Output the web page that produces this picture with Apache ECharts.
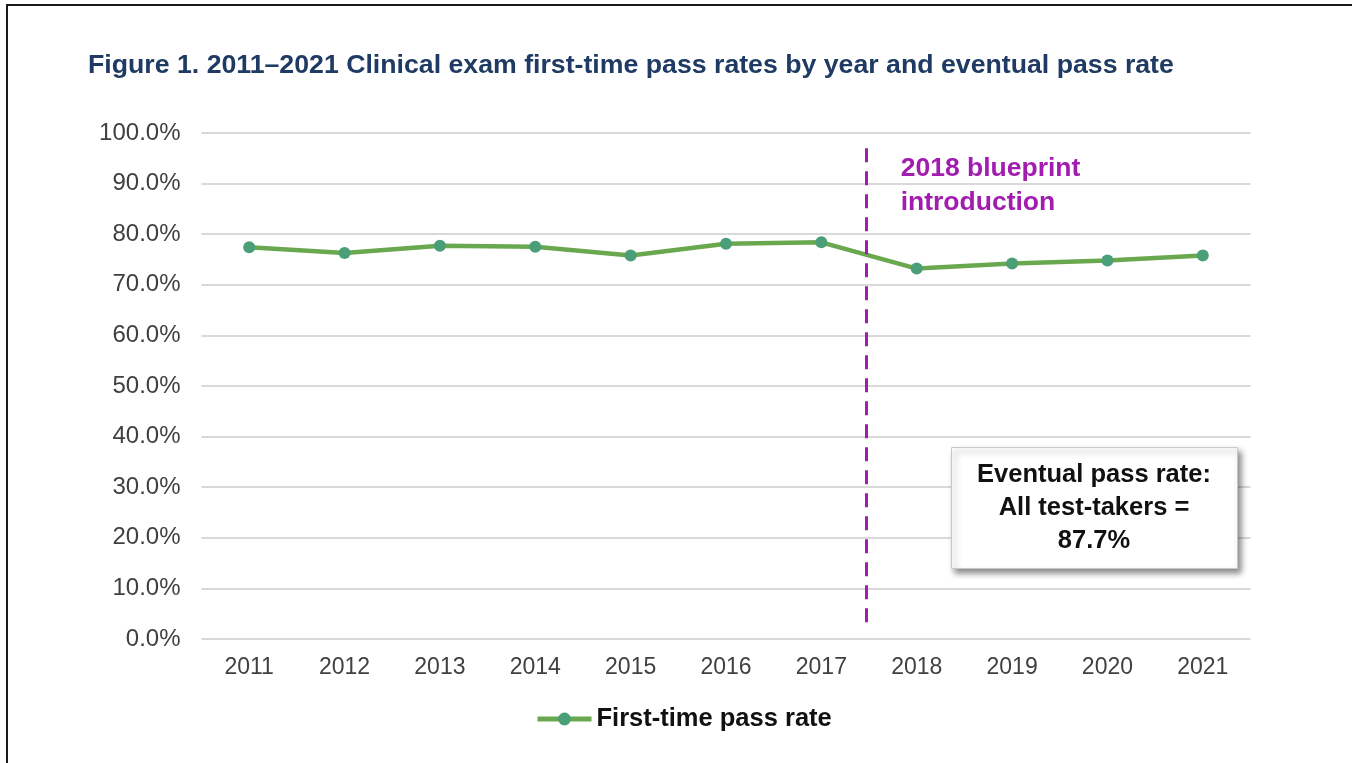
<!DOCTYPE html>
<html>
<head>
<meta charset="utf-8">
<script src="https://cdn.jsdelivr.net/npm/echarts@6/dist/echarts.min.js"></script>
<style>
html,body{margin:0;padding:0;background:#fff;}
#chart{width:1352px;height:763px;}
#frame{position:absolute;left:6px;top:4px;right:0;bottom:0;border-top:2px solid #1a1a1a;border-left:2px solid #1a1a1a;pointer-events:none;}
</style>
</head>
<body>
<div id="chart"></div>
<div id="frame"></div>
<script>
const years = ['2011','2012','2013','2014','2015','2016','2017','2018','2019','2020','2021'];
const firstTimePassRate = [77.4, 76.3, 77.7, 77.5, 75.8, 78.1, 78.4, 73.2, 74.2, 74.8, 75.8];
const seriesName = 'First-time pass rate';
const titleText = 'Figure 1. 2011\u20132021 Clinical exam first-time pass rates by year and eventual pass rate';
const blueprintPosition = 6.47; // between 2017 and 2018 (category index units)
const blueprintLabel = '2018 blueprint\nintroduction';
const eventualText = 'Eventual pass rate:\nAll test-takers =\n87.7%';

const chart = echarts.init(document.getElementById('chart'));
chart.setOption({
  backgroundColor: '#ffffff',
  animation: false,
  title: {
    text: titleText,
    left: 83, top: 47,
    textStyle: {fontFamily: 'Liberation Sans', fontWeight: 'bold', fontSize: 26.7, color: '#1f3b63'}
  },
  legend: {
    top: 701, left: 530,
    itemWidth: 54, itemHeight: 16, itemGap: 3,
    lineStyle: {width: 5},
    textStyle: {fontFamily: 'Liberation Sans', fontWeight: 'bold', fontSize: 25.5, color: '#111'},
    data: [seriesName]
  },
  grid: {left: 201.5, right: 101.5, top: 133, bottom: 124},
  xAxis: [{
    type: 'category', data: years, boundaryGap: true,
    axisLine: {show: false}, axisTick: {show: false},
    axisLabel: {fontFamily: 'Liberation Sans', fontSize: 23, color: '#404040', margin: 17}
  }, {
    type: 'value', min: -0.5, max: 10.5, show: false
  }],
  yAxis: {
    type: 'value', min: 0, max: 100, interval: 10,
    axisLine: {show: false}, axisTick: {show: false},
    axisLabel: {fontFamily: 'Liberation Sans', fontSize: 24, color: '#404040', margin: 21,
      formatter: v => v.toFixed(1) + '%'},
    splitLine: {lineStyle: {color: '#d9d9d9', width: 2}}
  },
  series: [{
    name: seriesName, type: 'line', data: firstTimePassRate,
    symbol: 'circle', symbolSize: 12,
    lineStyle: {color: '#6aa84f', width: 4.5},
    itemStyle: {color: '#4a9f78'},
    z: 3
  }, {
    type: 'line', xAxisIndex: 1, data: [], silent: true,
    markLine: {
      symbol: 'none', silent: true,
      lineStyle: {color: '#a21caf', type: [14, 9], width: 3},
      label: {show: false},
      data: [[{coord: [blueprintPosition, 97]}, {coord: [blueprintPosition, 2.6]}]]
    },
    markPoint: {
      symbol: 'rect', symbolSize: 1, silent: true,
      itemStyle: {color: 'rgba(0,0,0,0)'},
      data: [{coord: [blueprintPosition, 89.5], label: {
        show: true, position: 'right', distance: 34, formatter: blueprintLabel,
        fontFamily: 'Liberation Sans', fontWeight: 'bold', fontSize: 26.5, lineHeight: 34,
        color: '#a21caf', align: 'left'
      }}]
    }
  }],
  graphic: [{
    type: 'rect', left: 951, top: 447, z: 10,
    shape: {width: 286, height: 121},
    style: {fill: '#fff', stroke: '#c8c8c8', lineWidth: 1,
      shadowBlur: 6, shadowOffsetX: 3, shadowOffsetY: 4, shadowColor: 'rgba(0,0,0,0.45)'}
  }, {
    type: 'text', x: 1094, y: 458.5, z: 11,
    style: {text: eventualText, textAlign: 'center', textVerticalAlign: 'top',
      font: 'bold 25.5px "Liberation Sans"', lineHeight: 33, fill: '#111'}
  }]
});
</script>
</body>
</html>
